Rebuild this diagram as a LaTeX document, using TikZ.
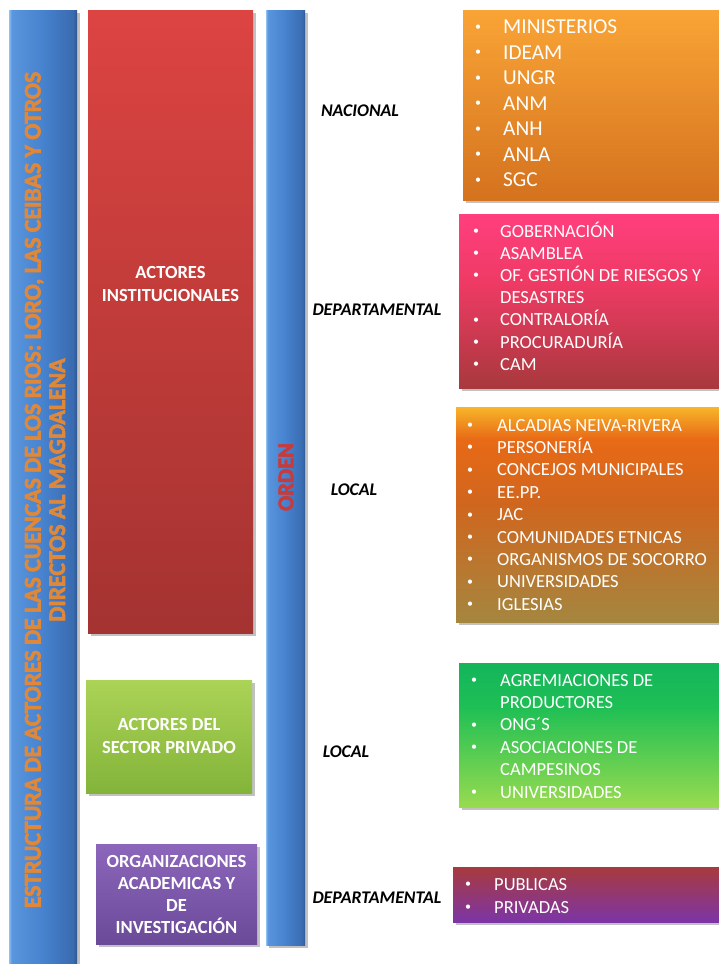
\documentclass[tikz,border=0pt]{standalone}
\usepackage{fontspec}
\setmainfont{Carlito}
\usetikzlibrary{shadows}

\definecolor{blA}{HTML}{8EC0F2}
\definecolor{blB}{HTML}{5A96DD}
\definecolor{blC}{HTML}{4682CE}
\definecolor{blD}{HTML}{3A6BB0}
\definecolor{blE}{HTML}{2C5690}
\definecolor{redT}{HTML}{DC4442}
\definecolor{redB}{HTML}{A43331}
\definecolor{grLT}{HTML}{ABD356}
\definecolor{grLB}{HTML}{83B43A}
\definecolor{puLT}{HTML}{8C66BB}
\definecolor{puLB}{HTML}{6B4A99}
\definecolor{orT}{HTML}{F9A436}
\definecolor{orB}{HTML}{D4721E}
\definecolor{pkT}{HTML}{FF3F7E}
\definecolor{pkM}{HTML}{EE3A64}
\definecolor{pkB}{HTML}{A8393D}
\definecolor{loT}{HTML}{F7B52A}
\definecolor{loA}{HTML}{E86A16}
\definecolor{loM}{HTML}{D0661E}
\definecolor{loB}{HTML}{A5863F}
\definecolor{gnT}{HTML}{14B55B}
\definecolor{gnM}{HTML}{1EBF55}
\definecolor{gnB}{HTML}{98DB4F}
\definecolor{prT}{HTML}{A83A3E}
\definecolor{prB}{HTML}{7C35A6}
\definecolor{titleor}{HTML}{E0883A}
\definecolor{ordenred}{HTML}{C93A3A}

\pgfdeclarehorizontalshading{barsh}{100bp}{color(0bp)=(blA); color(25bp)=(blA); color(27bp)=(blB); color(50bp)=(blC); color(72bp)=(blD); color(75bp)=(blE); color(100bp)=(blE)}
\pgfdeclareverticalshading{locsh}{100bp}{color(0bp)=(loB); color(25bp)=(loB); color(52.5bp)=(loM); color(67.5bp)=(loA); color(75bp)=(loT); color(100bp)=(loT)}
\pgfdeclareverticalshading{gnsh}{100bp}{color(0bp)=(gnB); color(25bp)=(gnB); color(60bp)=(gnM); color(75bp)=(gnT); color(100bp)=(gnT)}
\pgfdeclareverticalshading{pksh}{100bp}{color(0bp)=(pkB); color(25bp)=(pkB); color(55bp)=(pkM); color(75bp)=(pkT); color(100bp)=(pkT)}

\newcommand{\bul}[1][2.6pt]{\hspace*{3pt}\raisebox{#1}{\fontsize{12}{12}\selectfont •}}
\newcommand{\thickon}{\special{pdf:literal direct 2 Tr 0.6 w}}
\newcommand{\thickoff}{\special{pdf:literal direct 0 Tr}}

\tikzset{
  shad/.style={drop shadow={shadow xshift=2.5pt, shadow yshift=-2.5pt, opacity=0.35, fill=black!70}},
  blockbox/.style={shad, draw=none, inner sep=0pt, rectangle},
  bluebar/.style={blockbox, shading=barsh},
  lefttxt/.style={text=white, font=\bfseries\fontsize{18.5}{23}\selectfont, align=center, inner sep=0pt},
  ordtxt/.style={text=black, font=\bfseries\itshape\fontsize{17.8}{20}\selectfont, inner sep=0pt},
  listtxt/.style={text=white, inner sep=0pt, anchor=base west},
}

\begin{document}
\begin{tikzpicture}[x=1pt, y=-1pt]
\useasboundingbox (0,0) rectangle (718,964);

% vertical bars
\node[bluebar, minimum width=68pt, minimum height=960pt, anchor=north] (titlebar) at (43,10) {};
\node[bluebar, minimum width=39pt, minimum height=935pt] (ordenbar) at (285.5,477.5) {};

% left column boxes
\node[blockbox, top color=redT, bottom color=redB, minimum width=165pt, minimum height=623pt] (inst) at (170.5,321.5) {};
\node[blockbox, top color=grLT, bottom color=grLB, minimum width=166pt, minimum height=113pt] (priv) at (169,736.5) {};
\node[blockbox, top color=puLT, bottom color=puLB, minimum width=161pt, minimum height=100pt] (acad) at (176.5,894) {};

% right column boxes
\node[blockbox, top color=orT, bottom color=orB, minimum width=267pt, minimum height=190pt] (nacbox) at (596.5,105) {};
\node[blockbox, shading=pksh, minimum width=271pt, minimum height=174pt] (depbox) at (594.5,301) {};
\node[blockbox, shading=locsh, minimum width=274pt, minimum height=215pt] (locbox) at (593,514.5) {};
\node[blockbox, shading=gnsh, minimum width=271pt, minimum height=144pt] (pribox) at (594.5,735) {};
\node[blockbox, top color=prT, bottom color=prB, minimum width=277pt, minimum height=55pt] (acabox) at (591.5,894.5) {};

% rotated titles
\node[rotate=90, text=titleor, font=\bfseries\fontsize{23.8}{24.5}\selectfont, align=center, inner sep=0pt] (title) at (45,490)
  {\thickon ESTRUCTURA DE ACTORES DE LAS CUENCAS DE LOS RIOS: LORO, LAS CEIBAS Y OTROS\\DIRECTOS AL MAGDALENA\thickoff};
\node[rotate=90, text=ordenred, font=\bfseries\fontsize{22.5}{24}\selectfont, inner sep=0pt] (orden) at (286,477) {\thickon ORDEN\thickoff};

% left labels
\node[lefttxt] (instlab) at (170.5,284) {ACTORES\\INSTITUCIONALES};
\node[lefttxt, font=\bfseries\fontsize{18.5}{22.3}\selectfont] (privlab) at (169,736) {ACTORES DEL\\SECTOR PRIVADO};
\node[lefttxt, font=\bfseries\fontsize{18.5}{22.3}\selectfont] (acadlab) at (176.5,894.5) {ORGANIZACIONES\\ACADEMICAS Y\\DE\\INVESTIGACIÓN};

% order labels
\node[ordtxt] (nac) at (360,111) {NACIONAL};
\node[ordtxt] (dep1) at (377,310) {DEPARTAMENTAL};
\node[ordtxt] (loc1) at (354,490) {LOCAL};
\node[ordtxt] (loc2) at (346,752) {LOCAL};
\node[ordtxt] (dep2) at (377,898) {DEPARTAMENTAL};

% lists
\node[listtxt] (naclist) at (472,33.7) {\fontsize{21.3}{25.5}\selectfont
  \begin{tabular}[t]{@{}p{31pt}@{}l@{}}
  \bul[3.4pt] & MINISTERIOS\\ \bul[3.4pt] & IDEAM\\ \bul[3.4pt] & UNGR\\ \bul[3.4pt] & ANM\\ \bul[3.4pt] & ANH\\ \bul[3.4pt] & ANLA\\ \bul[3.4pt] & SGC
  \end{tabular}};
\node[listtxt] (deplist) at (470,237) {\fontsize{18.5}{22.2}\selectfont
  \begin{tabular}[t]{@{}p{30pt}@{}l@{}}
  \bul & GOBERNACIÓN\\ \bul & ASAMBLEA\\ \bul & OF. GESTIÓN DE RIESGOS Y\\ & DESASTRES\\ \bul & CONTRALORÍA\\ \bul & PROCURADURÍA\\ \bul & CAM
  \end{tabular}};
\node[listtxt] (loclist) at (464,431) {\fontsize{18.5}{22.4}\selectfont
  \begin{tabular}[t]{@{}p{33pt}@{}l@{}}
  \bul & ALCADIAS NEIVA-RIVERA\\ \bul & PERSONERÍA\\ \bul & CONCEJOS MUNICIPALES\\ \bul & EE.PP.\\ \bul & JAC\\ \bul & COMUNIDADES ETNICAS\\ \bul & ORGANISMOS DE SOCORRO\\ \bul & UNIVERSIDADES\\ \bul & IGLESIAS
  \end{tabular}};
\node[listtxt] (prilist) at (468,686) {\fontsize{18.5}{22.4}\selectfont
  \begin{tabular}[t]{@{}p{32pt}@{}l@{}}
  \bul & AGREMIACIONES DE\\ & PRODUCTORES\\ \bul & ONG´S\\ \bul & ASOCIACIONES DE\\ & CAMPESINOS\\ \bul & UNIVERSIDADES
  \end{tabular}};
\node[listtxt] (acalist) at (462,890) {\fontsize{18.5}{23}\selectfont
  \begin{tabular}[t]{@{}p{32pt}@{}l@{}}
  \bul & PUBLICAS\\ \bul & PRIVADAS
  \end{tabular}};
\end{tikzpicture}
\end{document}
